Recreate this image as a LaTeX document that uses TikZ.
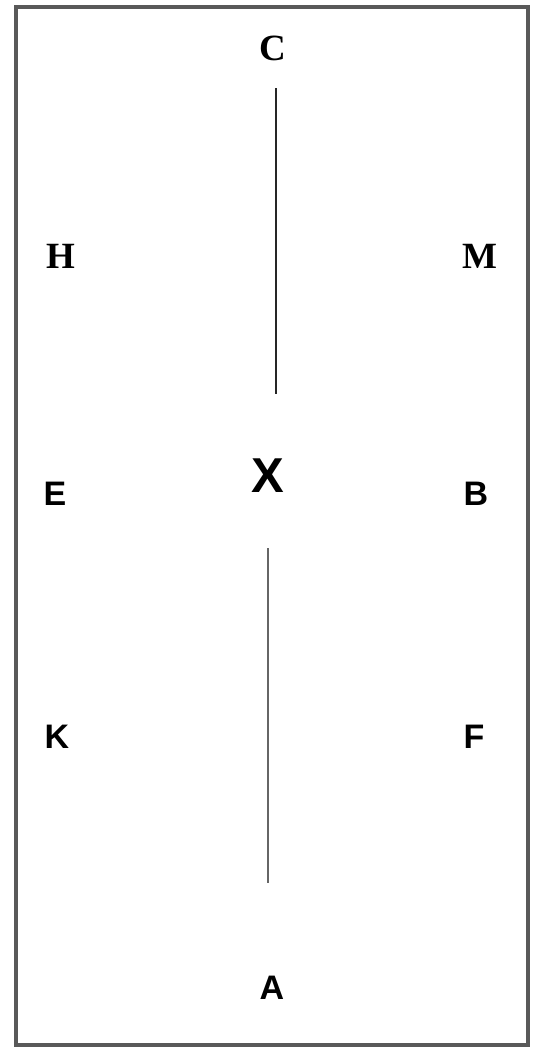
\documentclass[tikz,border=0pt]{standalone}
\usepackage{fontspec}
\setmainfont{Liberation Serif}
\newfontfamily\arialfont{Liberation Sans}
\begin{document}
\begin{tikzpicture}[x=1pt,y=-1pt,
  serifl/.style={inner sep=0pt,font=\fontsize{37}{37}\selectfont\bfseries},
  sansl/.style={inner sep=0pt,font=\arialfont\fontsize{34}{34}\selectfont\bfseries},
  bigl/.style={inner sep=0pt,font=\arialfont\fontsize{49}{49}\selectfont\bfseries},
  frame/.style={draw=black!65,line width=3.2pt},
  upline/.style={draw=black!85,line width=2pt},
  lowline/.style={draw=black!60,line width=1.6pt}]
\useasboundingbox[fill=white] (0,0) rectangle (534,1047);
\draw[frame] (16,7) rectangle (528,1045);
\node[serifl] (C) at (273,48) {C};
\node[serifl] (H) at (61,256) {H};
\node[serifl] (M) at (480,256) {M};
\node[sansl] (E) at (55,494) {E};
\node[bigl] (X) at (268,476) {X};
\node[sansl] (B) at (476,494) {B};
\node[sansl] (K) at (57,737) {K};
\node[sansl] (F) at (474,737) {F};
\node[sansl] (A) at (272,988) {A};
\coordinate (u1) at (276,88);
\coordinate (u2) at (276,394);
\coordinate (l1) at (268,548);
\coordinate (l2) at (268,883);
\draw[upline] (u1) -- (u2);
\draw[lowline] (l1) -- (l2);
\end{tikzpicture}
\end{document}
